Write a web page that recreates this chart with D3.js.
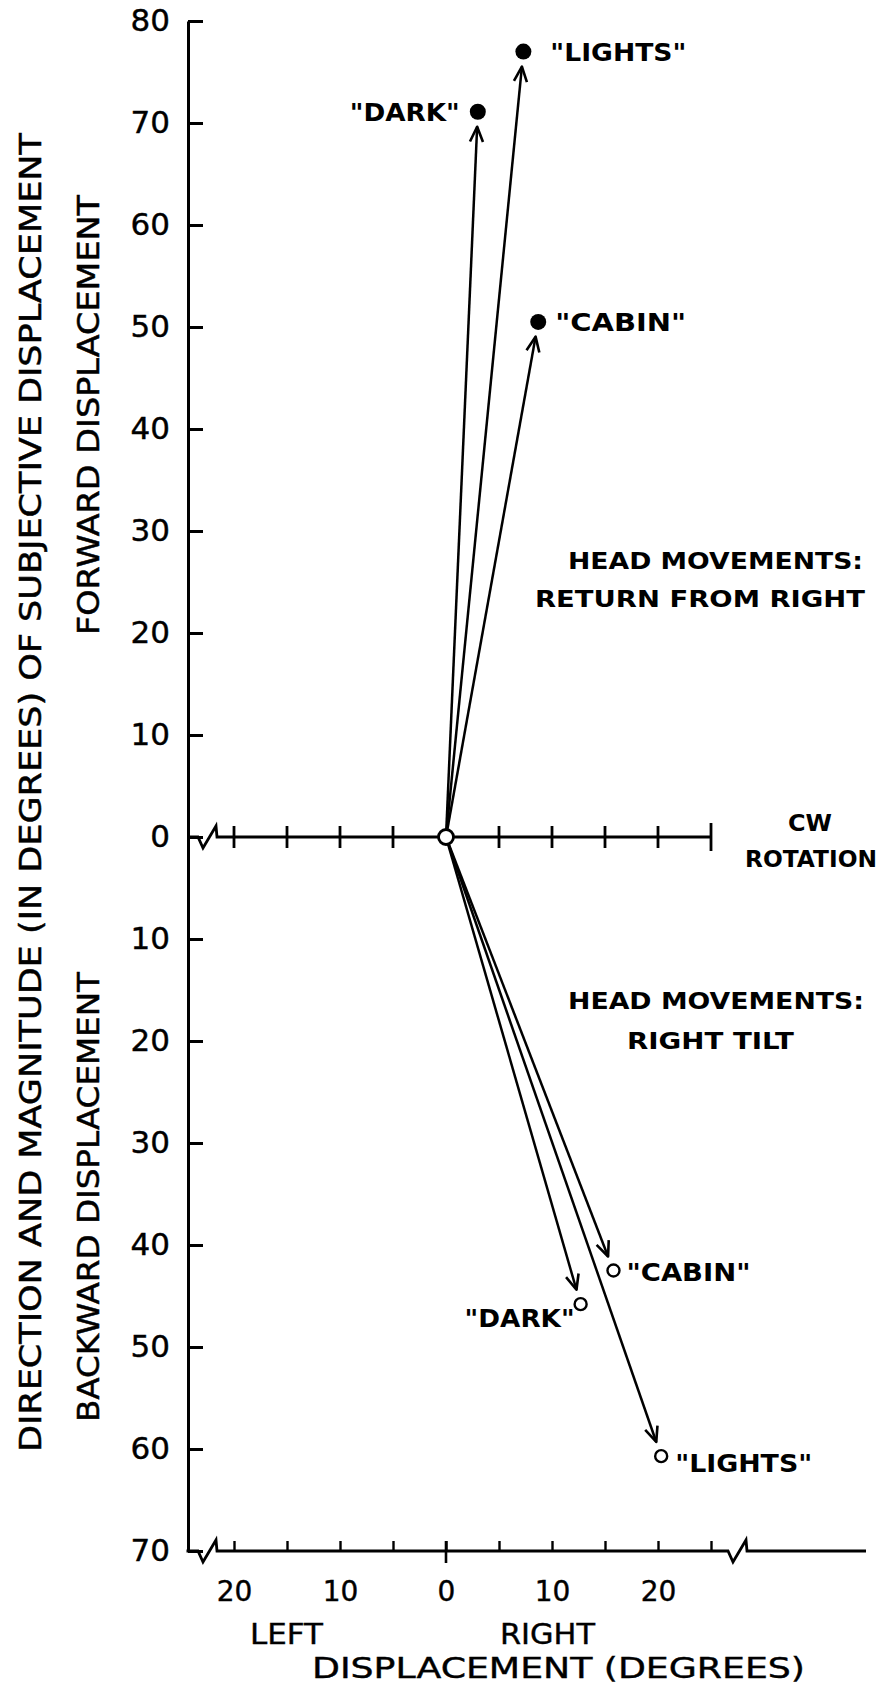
<!DOCTYPE html>
<html>
<head>
<meta charset="utf-8">
<script src="https://cdn.jsdelivr.net/npm/d3@7"></script>
<style>
  body { margin: 0; background: #fff; }
  text { font-family: "DejaVu Sans", sans-serif; fill: #000; }
</style>
</head>
<body>
<script>
// values (degrees)
var conditions = ["DARK", "LIGHTS", "CABIN"];
var returnX = [3.0, 7.3, 8.7];        // return from right, horizontal displacement
var returnY = [71.1, 77.0, 50.5];     // forward displacement
var tiltX = [12.7, 20.3, 15.8];       // right tilt, horizontal displacement
var tiltY = [-45.8, -60.7, -42.5];    // backward displacement (negative = backward)

var yTickValues = [80, 70, 60, 50, 40, 30, 20, 10, 0, -10, -20, -30, -40, -50, -60, -70];
var xTickValues = [-20, -15, -10, -5, 0, 5, 10, 15, 20, 25];
var xLabelValues = [-20, -10, 0, 10, 20];

var width = 882, height = 1687;
var axisX = 188;

var svg = d3.select("body").append("svg")
            .attr("width", width)
            .attr("height", height);

var x = d3.scaleLinear().domain([0, 25]).range([446, 711]);
var y = d3.scaleLinear().domain([-70, 80]).range([1551, 21]);

var defs = svg.append("defs");
defs.append("marker")
    .attr("id", "head")
    .attr("viewBox", "-18 -9 20 18")
    .attr("refX", 0)
    .attr("refY", 0)
    .attr("markerWidth", 20)
    .attr("markerHeight", 18)
    .attr("markerUnits", "userSpaceOnUse")
    .attr("orient", "auto")
  .append("path")
    .attr("d", "M-15,-6.5L0,0L-15,6.5")
    .attr("fill", "none")
    .attr("stroke", "black")
    .attr("stroke-width", 2.6)
    .attr("stroke-linejoin", "round");

// axis line with a zigzag break at bx
function brokenLine(x0, x1, yy, breaks) {
  var d = "M" + x0 + "," + yy;
  breaks.forEach(function (bx) {
    d += "H" + bx + "L" + (bx + 5) + "," + (yy + 11) + "L" + (bx + 18) + "," + (yy - 11) + "L" + (bx + 19) + "," + yy;
  });
  return d + "H" + x1;
}

//Y axis with ticks pointing right
var yAxis = d3.axisLeft(y)
              .tickValues(yTickValues)
              .tickSizeInner(-15)
              .tickSizeOuter(0)
              .tickPadding(18)
              .tickFormat(function (d) { return Math.abs(d); });

var yg = svg.append("g")
            .attr("transform", "translate(" + axisX + ",0)")
            .call(yAxis);
yg.select(".domain").attr("stroke-width", 3);
yg.selectAll(".tick line").attr("stroke-width", 3);
yg.selectAll(".tick text")
  .attr("font-size", 31)
  .attr("font-family", "DejaVu Sans")
  .attr("stroke", "black")
  .attr("stroke-width", 0.4);

//Zero line (rotation axis)
svg.append("path")
   .attr("d", brokenLine(axisX, x(25), y(0), [198]))
   .attr("fill", "none")
   .attr("stroke", "black")
   .attr("stroke-width", 2.8);

svg.selectAll(".zt")
   .data(xTickValues.filter(function (d) { return d !== 0; }))
   .enter()
   .append("line")
   .attr("class", "zt")
   .attr("x1", function (d) { return x(d); })
   .attr("x2", function (d) { return x(d); })
   .attr("y1", function (d) { return y(0) - (d === 25 ? 14 : 11); })
   .attr("y2", function (d) { return y(0) + (d === 25 ? 14 : 11); })
   .attr("stroke", "black")
   .attr("stroke-width", 2.8);

//Bottom axis
var bottomY = y(-70);
svg.append("path")
   .attr("d", brokenLine(axisX - 1.5, 866, bottomY, [198, 728]))
   .attr("fill", "none")
   .attr("stroke", "black")
   .attr("stroke-width", 2.8);

var xAxis = d3.axisBottom(x)
              .tickValues(xTickValues)
              .tickSizeInner(-10)
              .tickSizeOuter(0)
              .tickPadding(36)
              .tickFormat(function (d) { return xLabelValues.indexOf(d) >= 0 ? Math.abs(d) : ""; });

var xg = svg.append("g")
            .attr("transform", "translate(0," + bottomY + ")")
            .call(xAxis);
xg.select(".domain").remove();
xg.selectAll(".tick line").attr("stroke-width", 2.4);
xg.selectAll(".tick text")
  .attr("font-size", 28)
  .attr("font-family", "DejaVu Sans Condensed, DejaVu Sans")
  .attr("stroke", "black")
  .attr("stroke-width", 0.4)
  .attr("dy", "0.5em");
svg.append("line")
   .attr("x1", x(0)).attr("x2", x(0))
   .attr("y1", bottomY - 10).attr("y2", bottomY + 12)
   .attr("stroke", "black")
   .attr("stroke-width", 2.6);

//Arrows from the origin, stopping short of each point
var ox = x(0), oy = y(0);
function arrowEnd(px, py) {
  var dx = px - ox, dy = py - oy, len = Math.sqrt(dx * dx + dy * dy);
  return [px - dx / len * 15, py - dy / len * 15];
}

var returnPts = conditions.map(function (c, i) { return [x(returnX[i]), y(returnY[i])]; });
var tiltPts = conditions.map(function (c, i) { return [x(tiltX[i]), y(tiltY[i])]; });

svg.selectAll(".arrow")
   .data(returnPts.concat(tiltPts))
   .enter()
   .append("line")
   .attr("class", "arrow")
   .attr("x1", ox)
   .attr("y1", oy)
   .attr("x2", function (d) { return arrowEnd(d[0], d[1])[0]; })
   .attr("y2", function (d) { return arrowEnd(d[0], d[1])[1]; })
   .attr("stroke", "black")
   .attr("stroke-width", 2.5)
   .attr("marker-end", "url(#head)");

//Filled dots: return from right
svg.selectAll(".rdot")
   .data(returnPts)
   .enter()
   .append("circle")
   .attr("cx", function (d) { return d[0]; })
   .attr("cy", function (d) { return d[1]; })
   .attr("r", 8)
   .style("fill", "black");

//Open dots: right tilt
svg.selectAll(".tdot")
   .data(tiltPts)
   .enter()
   .append("circle")
   .attr("cx", function (d) { return d[0]; })
   .attr("cy", function (d) { return d[1]; })
   .attr("r", 6)
   .attr("fill", "white")
   .attr("stroke", "black")
   .attr("stroke-width", 2.4);

//Origin
svg.append("circle")
   .attr("cx", ox)
   .attr("cy", oy)
   .attr("r", 7.5)
   .attr("fill", "white")
   .attr("stroke", "black")
   .attr("stroke-width", 2.8);

// point labels: [dx, dy, anchor, length]
var returnLabelPos = { DARK: [-18, 9, "end", 110], LIGHTS: [27, 9, "start", 136], CABIN: [17, 9, "start", 131] };
var tiltLabelPos = { DARK: [-6, 23, "end", 110], LIGHTS: [14, 16, "start", 137], CABIN: [13, 10, "start", 124] };

function addLabels(pts, pos) {
  conditions.forEach(function (c, i) {
    var p = pos[c];
    svg.append("text")
       .attr("x", pts[i][0] + p[0])
       .attr("y", pts[i][1] + p[1])
       .attr("text-anchor", p[2])
       .attr("font-size", 24)
       .attr("font-weight", "bold")
       .attr("textLength", p[3])
       .attr("lengthAdjust", "spacingAndGlyphs")
       .text("\"" + c + "\"");
  });
}
addLabels(returnPts, returnLabelPos);
addLabels(tiltPts, tiltLabelPos);

//Notes on the right
function note(txt, x0, yy, len, size, weight) {
  svg.append("text")
     .attr("x", x0)
     .attr("y", yy)
     .attr("font-size", size)
     .attr("font-weight", weight)
     .attr("textLength", len)
     .attr("lengthAdjust", "spacingAndGlyphs")
     .text(txt);
}
note("HEAD MOVEMENTS:", 568, 569, 295, 23, "bold");
note("RETURN FROM RIGHT", 535, 607, 330, 23, "bold");
note("CW", 788, 831, 44, 23, "bold");
note("ROTATION", 745, 867, 132, 23, "bold");
note("HEAD MOVEMENTS:", 568, 1009, 296, 23, "bold");
note("RIGHT TILT", 627, 1049, 167, 23, "bold");

//Bottom titles
function bnote(txt, x0, yy, len) {
  svg.append("text")
     .attr("x", x0)
     .attr("y", yy)
     .attr("font-size", 28)
     .attr("font-family", "DejaVu Sans Condensed, DejaVu Sans")
     .attr("stroke", "black")
     .attr("stroke-width", 0.4)
     .attr("textLength", len)
     .attr("lengthAdjust", "spacingAndGlyphs")
     .text(txt);
}
bnote("LEFT", 250, 1644, 73);
bnote("RIGHT", 500, 1644, 95);
bnote("DISPLACEMENT (DEGREES)", 312, 1678, 493);

//Y axis titles, rotated
function vnote(txt, xb, yStart, len) {
  svg.append("text")
     .attr("transform", "translate(" + xb + "," + yStart + ") rotate(-90)")
     .attr("font-size", 31)
     .attr("stroke", "black")
     .attr("stroke-width", 0.5)
     .attr("textLength", len)
     .attr("lengthAdjust", "spacingAndGlyphs")
     .text(txt);
}
vnote("DIRECTION AND MAGNITUDE (IN DEGREES) OF SUBJECTIVE DISPLACEMENT", 41, 1452, 1319);
vnote("FORWARD DISPLACEMENT", 99, 635, 440);
vnote("BACKWARD DISPLACEMENT", 99, 1422, 450);
</script>
</body>
</html>
